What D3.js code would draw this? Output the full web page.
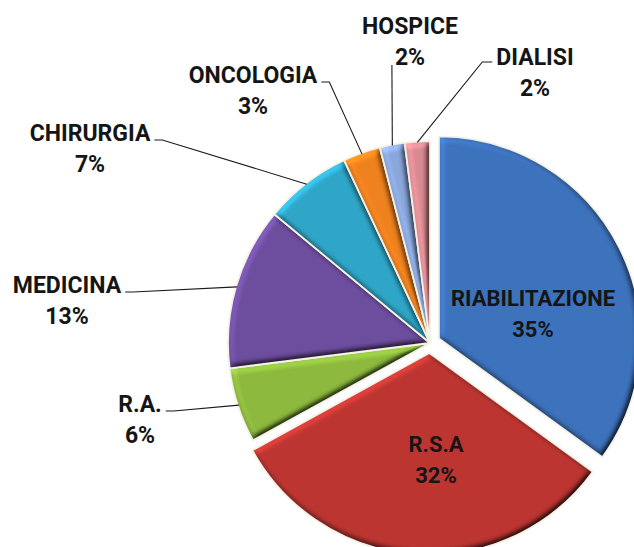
<!DOCTYPE html>
<html><head><meta charset="utf-8">
<script src="https://cdn.jsdelivr.net/npm/d3@7"></script>
<style>html,body{margin:0;padding:0;background:#fff;}svg{display:block;}</style>
</head><body>
<svg id="chart" width="634" height="547"></svg>
<script>
// ---- data ----
const categories = ["RIABILITAZIONE","R.S.A","R.A.","MEDICINA","CHIRURGIA","ONCOLOGIA","HOSPICE","DIALISI"];
const values = [35, 32, 6, 13, 7, 3, 2, 2];
const percentLabels = ["35%","32%","6%","13%","7%","3%","2%","2%"];

// ---- styling / layout ----
const colors = ["#3D72BC","#BC3531","#8DBA3E","#6D4D9E","#2FA6C8","#F0821F","#8AA7DC","#D98991"];
const explode = [10, 10, 0, 0, 0, 0, 0, 0];
// label placement: text centre relative to pie centre, line kind
const labelLayout = [
  {dx: 103, dy: -45, inside: true},
  {dx: 6, dy: 101, inside: true},
  {dx: -290, dy: 61, side: "left"},
  {dx: -363, dy: -58, side: "left"},
  {dx: -340, dy: -210, side: "left"},
  {dx: -177, dy: -268, side: "left"},
  {dx: -20, dy: -317, side: "below"},
  {dx: 105, dy: -286, side: "right"}
];
const cx = 430, cy = 343, R = 202;
const lineGap = 31;
const innerFont = 22, outerFont = 23;

const svg = d3.select("#chart");
const defs = svg.append("defs");
const f = defs.append("filter").attr("id","bevel").attr("color-interpolation-filters","sRGB")
  .attr("x","-5%").attr("y","-5%").attr("width","110%").attr("height","110%");
f.append("feGaussianBlur").attr("in","SourceAlpha").attr("stdDeviation",3).attr("result","blur");
f.append("feDiffuseLighting").attr("in","blur").attr("surfaceScale",4).attr("diffuseConstant",1)
  .attr("lighting-color","#ffffff").attr("result","diff")
  .append("feDistantLight").attr("azimuth",225).attr("elevation",56);
f.append("feComposite").attr("in","diff").attr("in2","SourceGraphic").attr("operator","arithmetic")
  .attr("k1",1.206).attr("k2",0).attr("k3",0).attr("k4",0).attr("result","shaded");
f.append("feComposite").attr("in","shaded").attr("in2","SourceAlpha").attr("operator","in");

const pie = d3.pie().sort(null).value(d => d).startAngle(0).endAngle(2*Math.PI);
const arcs = pie(values);
const arc = d3.arc().innerRadius(0).outerRadius(R);

const g = svg.append("g").attr("transform", `translate(${cx},${cy})`);

function off(i) {
  const a = (arcs[i].startAngle + arcs[i].endAngle) / 2;
  return d3.pointRadial(a, explode[i]);
}

const slices = g.selectAll("g.slice").data(arcs).join("g")
  .attr("class","slice")
  .attr("transform", (d,i) => { const o = off(i); return `translate(${o[0]},${o[1]})`; });
slices.append("path").attr("d", arc).attr("fill", (d,i) => colors[i]).attr("filter","url(#bevel)");
slices.append("path").attr("d", arc).attr("fill","none").attr("stroke","#f4f1e6")
  .attr("stroke-width",1.8).attr("stroke-linejoin","round");

// labels
const lg = svg.append("g").attr("font-family","Roboto, 'Noto Sans', sans-serif")
  .attr("font-weight",700).attr("fill","#151515");

arcs.forEach((d,i) => {
  const L = labelLayout[i];
  const tx = cx + L.dx, ty = cy + L.dy;
  const fs = L.inside ? innerFont : outerFont;
  const t1 = lg.append("text").attr("x",tx).attr("y",ty).attr("text-anchor","middle")
    .attr("font-size",fs).attr("dominant-baseline","central").text(categories[i]);
  const t2 = lg.append("text").attr("x",tx).attr("y",ty + lineGap).attr("text-anchor","middle")
    .attr("font-size",fs).attr("dominant-baseline","central").text(percentLabels[i]);
  if (L.inside) return;
  const mid = (d.startAngle + d.endAngle) / 2;
  const o = off(i);
  const p = d3.pointRadial(mid, R - 1);
  const end = [cx + p[0] + o[0], cy + p[1] + o[1]];
  const w1 = t1.node().getComputedTextLength();
  const w2 = t2.node().getComputedTextLength();
  let pts;
  if (L.side === "left") {
    const s = [tx + w1/2 + 4, ty + 7];
    pts = [s, [s[0] + 8, s[1]], end];
  } else if (L.side === "right") {
    const s = [tx - w1/2 - 4, ty + 5];
    pts = [s, [s[0] - 10, s[1]], end];
  } else {
    const s = [tx - w2/2 - 3, ty + lineGap + 8];
    pts = [s, end];
  }
  svg.append("path").attr("d", d3.line()(pts)).attr("fill","none")
    .attr("stroke","#1a1a1a").attr("stroke-width",1.1);
});
</script>
</body></html>
